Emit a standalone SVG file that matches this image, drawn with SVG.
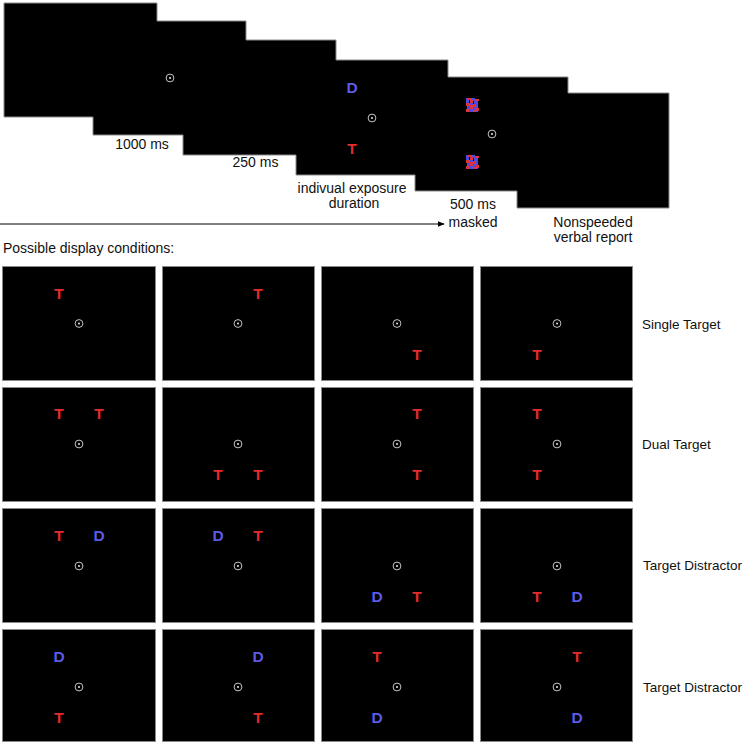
<svg xmlns="http://www.w3.org/2000/svg" xmlns:xlink="http://www.w3.org/1999/xlink" width="749" height="744" viewBox="0 0 749 744">
<style>
.lbl{font-family:"Liberation Sans",Arial,sans-serif;font-size:14px;fill:#111}
.cond{font-family:"Liberation Sans",Arial,sans-serif;font-size:13.5px;fill:#111}
.T{font-family:"Liberation Sans",Arial,sans-serif;font-size:15.5px;font-weight:bold;fill:#e52b2b;text-anchor:middle}
.D{font-family:"Liberation Sans",Arial,sans-serif;font-size:15.5px;font-weight:bold;fill:#5b5be8;text-anchor:middle}
.scr{fill:#000}
.cell{fill:#000;stroke:#8a8a8a;stroke-width:1}
.fx{fill:none;stroke:#c4c4c4;stroke-width:1}
.fd{fill:#e6e6e6}
.mr{fill:#e0303a}
.mb{fill:#5048e0}
</style>
<defs>
<g id="fix"><circle class="fx" cx="0" cy="0" r="3.9"/><circle class="fd" cx="0" cy="0" r="1"/></g>
<g id="mk">
<rect class="mb" x="-6" y="-7" width="3" height="5"/>
<rect class="mr" x="-4" y="-7" width="4" height="2"/>
<rect class="mb" x="0" y="-7" width="3" height="3"/>
<rect class="mr" x="3" y="-6" width="4" height="2"/>
<rect class="mr" x="-2" y="-5" width="3" height="3"/>
<rect class="mb" x="2" y="-4" width="4" height="3"/>
<rect class="mr" x="-6" y="-2" width="4" height="3"/>
<rect class="mb" x="-2" y="-2" width="3" height="2"/>
<rect class="mr" x="1" y="-1" width="3" height="3"/>
<rect class="mb" x="4" y="-1" width="2" height="4"/>
<rect class="mb" x="-5" y="1" width="3" height="3"/>
<rect class="mr" x="-2" y="0" width="3" height="4"/>
<rect class="mb" x="1" y="2" width="3" height="3"/>
<rect class="mr" x="4" y="3" width="3" height="3"/>
<rect class="mr" x="-6" y="4" width="3" height="3"/>
<rect class="mb" x="-3" y="4" width="4" height="3"/>
<rect class="mr" x="1" y="5" width="3" height="2"/>
<rect class="mb" x="4" y="6" width="2" height="1"/>
</g>
<marker id="ah" viewBox="0 0 10 10" refX="9" refY="5" markerWidth="7" markerHeight="7" orient="auto" markerUnits="userSpaceOnUse"><path d="M0,1 L10,5 L0,9 Z" fill="#000"/></marker>
</defs>

<!-- trial sequence frames -->
<g id="frame1"><rect class="scr" x="4" y="3" width="153" height="114"/></g>
<g id="frame2"><rect class="scr" x="93" y="21" width="153" height="114"/></g>
<g id="frame3"><rect class="scr" x="183" y="40" width="153" height="115"/></g>
<g id="frame4"><rect class="scr" x="296" y="60" width="152" height="115"/></g>
<g id="frame5"><rect class="scr" x="415" y="77" width="153" height="114"/></g>
<g id="frame6"><rect class="scr" x="517" y="93" width="152" height="115"/></g>
<path d="M4,3 H157 V21 H246 V40 H336 V60 H448 V77 H568 V93 H669 V208 H517 V191 H415 V175 H296 V155 H183 V135 H93 V117 H4 Z" fill="none" stroke="#8a8a8a" stroke-width="1"/>

<g id="frame1-content"><use xlink:href="#fix" x="170" y="78"/></g>
<g id="frame4-content">
<text class="D" x="352" y="93">D</text>
<use xlink:href="#fix" x="372" y="118"/>
<text class="T" x="352" y="154">T</text>
</g>
<g id="frame5-content">
<use xlink:href="#mk" x="472" y="105"/>
<use xlink:href="#fix" x="492" y="134"/>
<use xlink:href="#mk" x="472" y="162"/>
</g>

<g id="seq-labels">
<text class="lbl" x="142" y="149" text-anchor="middle">1000 ms</text>
<text class="lbl" x="255.5" y="167" text-anchor="middle">250 ms</text>
<text class="lbl" x="352" y="193" text-anchor="middle">indivual exposure</text>
<text class="lbl" x="354" y="208" text-anchor="middle">duration</text>
<text class="lbl" x="473" y="209" text-anchor="middle">500 ms</text>
<text class="lbl" x="473" y="227" text-anchor="middle">masked</text>
<text class="lbl" x="593" y="227" text-anchor="middle">Nonspeeded</text>
<text class="lbl" x="593" y="242" text-anchor="middle">verbal report</text>
</g>

<g id="connectors">
<line x1="0" y1="224" x2="444" y2="224" stroke="#000" stroke-width="1" marker-end="url(#ah)"/>
</g>

<text class="lbl" x="3" y="253">Possible display conditions:</text>

<!-- row 1: Single Target -->
<g id="r1c1"><rect class="cell" x="2.5" y="266.5" width="153" height="114"/><use xlink:href="#fix" x="79" y="323.5"/><text class="T" x="59" y="298.5">T</text></g>
<g id="r1c2"><rect class="cell" x="162.5" y="266.5" width="152" height="114"/><use xlink:href="#fix" x="238" y="323.5"/><text class="T" x="258" y="298.5">T</text></g>
<g id="r1c3"><rect class="cell" x="321.5" y="266.5" width="152" height="114"/><use xlink:href="#fix" x="397" y="323.5"/><text class="T" x="417" y="359.5">T</text></g>
<g id="r1c4"><rect class="cell" x="480.5" y="266.5" width="152" height="114"/><use xlink:href="#fix" x="557" y="323.5"/><text class="T" x="537" y="359.5">T</text></g>
<text class="cond" x="642" y="329">Single Target</text>

<!-- row 2: Dual Target -->
<g id="r2c1"><rect class="cell" x="2.5" y="387.5" width="153" height="114"/><use xlink:href="#fix" x="79" y="444"/><text class="T" x="59" y="419">T</text><text class="T" x="99" y="419">T</text></g>
<g id="r2c2"><rect class="cell" x="162.5" y="387.5" width="152" height="114"/><use xlink:href="#fix" x="238" y="444"/><text class="T" x="218" y="480">T</text><text class="T" x="258" y="480">T</text></g>
<g id="r2c3"><rect class="cell" x="321.5" y="387.5" width="152" height="114"/><use xlink:href="#fix" x="397" y="444"/><text class="T" x="417" y="419">T</text><text class="T" x="417" y="480">T</text></g>
<g id="r2c4"><rect class="cell" x="480.5" y="387.5" width="152" height="114"/><use xlink:href="#fix" x="557" y="444"/><text class="T" x="537" y="419">T</text><text class="T" x="537" y="480">T</text></g>
<text class="cond" x="642" y="449">Dual Target</text>

<!-- row 3: Target Distractor -->
<g id="r3c1"><rect class="cell" x="2.5" y="508.5" width="153" height="114"/><use xlink:href="#fix" x="79" y="566"/><text class="T" x="59" y="541">T</text><text class="D" x="99" y="541">D</text></g>
<g id="r3c2"><rect class="cell" x="162.5" y="508.5" width="152" height="114"/><use xlink:href="#fix" x="238" y="566"/><text class="D" x="218" y="541">D</text><text class="T" x="258" y="541">T</text></g>
<g id="r3c3"><rect class="cell" x="321.5" y="508.5" width="152" height="114"/><use xlink:href="#fix" x="397" y="566"/><text class="D" x="377" y="602">D</text><text class="T" x="417" y="602">T</text></g>
<g id="r3c4"><rect class="cell" x="480.5" y="508.5" width="152" height="114"/><use xlink:href="#fix" x="557" y="566"/><text class="T" x="537" y="602">T</text><text class="D" x="577" y="602">D</text></g>
<text class="cond" x="643" y="570">Target Distractor</text>

<!-- row 4: Target Distractor -->
<g id="r4c1"><rect class="cell" x="2.5" y="629.5" width="153" height="112"/><use xlink:href="#fix" x="79" y="687"/><text class="D" x="59" y="662">D</text><text class="T" x="59" y="723">T</text></g>
<g id="r4c2"><rect class="cell" x="162.5" y="629.5" width="152" height="112"/><use xlink:href="#fix" x="238" y="687"/><text class="D" x="258" y="662">D</text><text class="T" x="258" y="723">T</text></g>
<g id="r4c3"><rect class="cell" x="321.5" y="629.5" width="152" height="112"/><use xlink:href="#fix" x="397" y="687"/><text class="T" x="377" y="662">T</text><text class="D" x="377" y="723">D</text></g>
<g id="r4c4"><rect class="cell" x="480.5" y="629.5" width="152" height="112"/><use xlink:href="#fix" x="557" y="687"/><text class="T" x="577" y="662">T</text><text class="D" x="577" y="723">D</text></g>
<text class="cond" x="643" y="692">Target Distractor</text>
</svg>
